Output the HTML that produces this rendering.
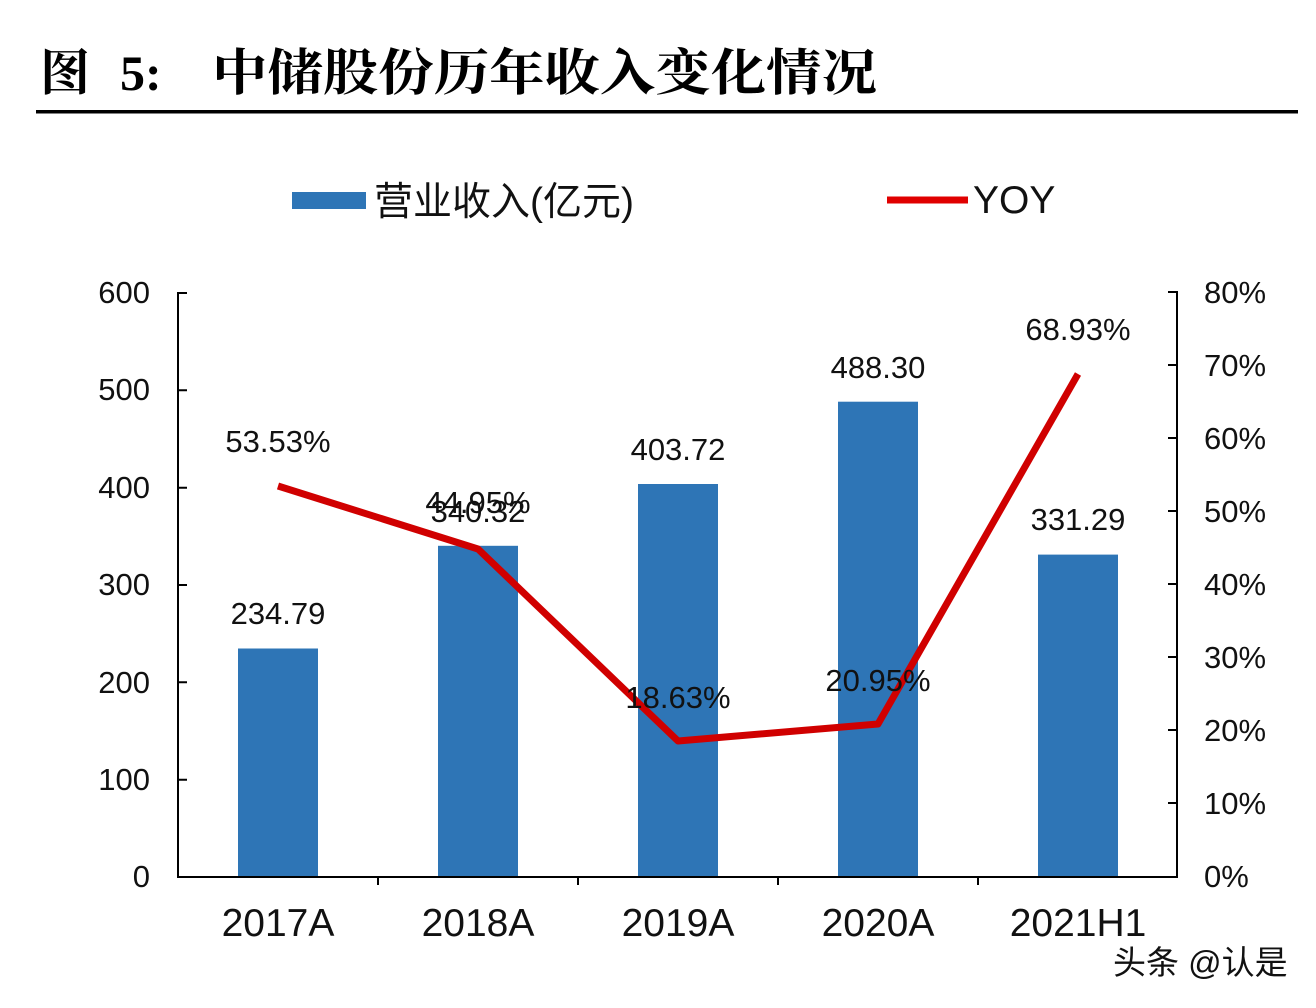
<!DOCTYPE html>
<html><head><meta charset="utf-8"><style>
html,body{margin:0;padding:0;background:#fff;}
svg{display:block;}
</style></head><body>
<svg width="1316" height="1008" viewBox="0 0 1316 1008" xmlns="http://www.w3.org/2000/svg">
<rect width="1316" height="1008" fill="#fff"/>
<g font-family="'Liberation Serif','Noto Serif CJK SC',serif" font-weight="bold" font-size="50" fill="#000">
<text x="40" y="90">图</text>
<text x="120" y="90">5:</text>
<text x="212" y="90" textLength="665" lengthAdjust="spacingAndGlyphs">中储股份历年收入变化情况</text>
</g>
<rect x="36" y="110" width="1262" height="3.5" fill="#000"/>
<g font-family="'Liberation Sans','Noto Sans CJK SC',sans-serif" fill="#111">
<rect x="292" y="192" width="74" height="17" fill="#2e75b6"/>
<text x="374" y="215" font-size="39">营业收入(亿元)</text>
<line x1="887" y1="200" x2="968" y2="200" stroke="#e00000" stroke-width="7"/>
<text x="973" y="213" font-size="39">YOY</text>
</g>
<g fill="#2e75b6">
<rect x="238" y="648.5" width="80" height="228.5"/>
<rect x="438" y="545.8" width="80" height="331.2"/>
<rect x="638" y="484" width="80" height="393"/>
<rect x="838" y="401.7" width="80" height="475.3"/>
<rect x="1038" y="554.6" width="80" height="322.4"/>
</g>
<g stroke="#000" stroke-width="2" fill="none">
<path d="M187 293H178V877H1177V292H1168"/>
<path d="M178 390.3h9M178 487.7h9M178 585h9M178 682.3h9M178 779.7h9"/>
<path d="M1168 365h9M1168 438h9M1168 511h9M1168 584h9M1168 657h9M1168 730h9M1168 803h9"/>
<path d="M378 877v8M578 877v8M778 877v8M978 877v8"/>
</g>
<polyline points="278,486 478,549 678,741 878,724 1078,374" fill="none" stroke="#d00000" stroke-width="7" stroke-linejoin="round"/>
<g font-family="'Liberation Sans',sans-serif" font-size="31" fill="#111">
<g text-anchor="end">
<text x="150" y="303">600</text><text x="150" y="400">500</text><text x="150" y="498">400</text>
<text x="150" y="595">300</text><text x="150" y="693">200</text><text x="150" y="790">100</text><text x="150" y="887">0</text>
</g>
<text x="1204" y="303">80%</text><text x="1204" y="376">70%</text><text x="1204" y="449">60%</text>
<text x="1204" y="522">50%</text><text x="1204" y="595">40%</text><text x="1204" y="668">30%</text>
<text x="1204" y="741">20%</text><text x="1204" y="814">10%</text><text x="1204" y="887">0%</text>
<g text-anchor="middle">
<text x="278" y="624">234.79</text>
<text x="478" y="522">340.32</text>
<text x="678" y="460">403.72</text>
<text x="878" y="378">488.30</text>
<text x="1078" y="530">331.29</text>
<text x="278" y="452">53.53%</text>
<text x="478" y="513">44.95%</text>
<text x="678" y="708">18.63%</text>
<text x="878" y="691">20.95%</text>
<text x="1078" y="340">68.93%</text>
</g>
<g text-anchor="middle" font-size="39">
<text x="278" y="936">2017A</text><text x="478" y="936">2018A</text><text x="678" y="936">2019A</text>
<text x="878" y="936">2020A</text><text x="1078" y="936">2021H1</text>
</g>
</g>
<text x="1113" y="974" font-family="'Liberation Sans','Noto Sans CJK SC',sans-serif" font-size="33" fill="#111">头条 @认是</text>
</svg>
</body></html>
